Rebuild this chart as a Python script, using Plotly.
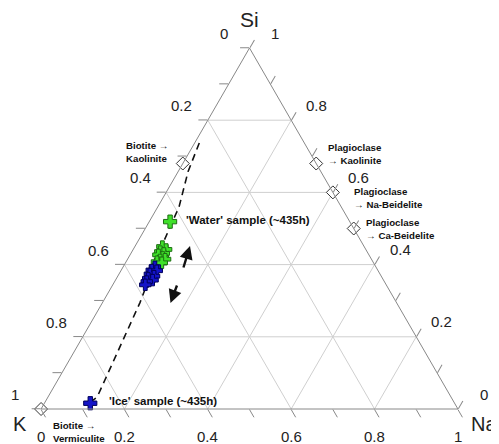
import plotly.graph_objects as go

# ---------------- data (fractions: Si = top, K = bottom-left, Na = bottom-right)
green_si = [0.450, 0.442, 0.436, 0.431, 0.427, 0.420, 0.413, 0.415, 0.408, 0.405]
green_na = [0.066, 0.079, 0.068, 0.079, 0.068, 0.082, 0.079, 0.090, 0.074, 0.087]
green_k = [0.484, 0.479, 0.496, 0.490, 0.505, 0.498, 0.508, 0.495, 0.518, 0.508]

blue_si = [0.394, 0.385, 0.383, 0.374, 0.368, 0.362, 0.357, 0.353, 0.344]
blue_na = [0.076, 0.073, 0.086, 0.074, 0.087, 0.076, 0.089, 0.077, 0.078]
blue_k = [0.530, 0.542, 0.531, 0.552, 0.545, 0.562, 0.554, 0.570, 0.578]

water_si, water_na, water_k = [0.519], [0.050], [0.431]
ice_si, ice_na, ice_k = [0.016], [0.110], [0.874]

trend_si = [0.737, 0.657, 0.560, 0.440, 0.294, 0.033, 0.019]
trend_na = [0.011, 0.024, 0.051, 0.065, 0.090, 0.118, 0.108]
trend_k = [0.252, 0.319, 0.389, 0.495, 0.616, 0.849, 0.873]

mineral_names = ["Biotite → Vermiculite", "Biotite → Kaolinite",
                 "Plagioclase → Kaolinite", "Plagioclase → Na-Beidelite",
                 "Plagioclase → Ca-Beidelite"]
mineral_si = [0.0, 0.68, 0.68, 0.60, 0.50]
mineral_na = [0.0, 0.0, 0.32, 0.40, 0.50]
mineral_k = [1.0, 0.32, 0.0, 0.0, 0.0]

tick_vals = [0, 0.1, 0.2, 0.3, 0.4, 0.5, 0.6, 0.7, 0.8, 0.9, 1.0]
label_vals = [0, 0.2, 0.4, 0.6, 0.8, 1.0]
label_text = ["0", "0.2", "0.4", "0.6", "0.8", "1"]
grid_vals = [0.2, 0.4, 0.6, 0.8]

# ---------------- figure
fig = go.Figure()

gridc = "#cfcfcf"
for v in grid_vals:
    for a, b, c in [([v, v], [1 - v, 0], [0, 1 - v]),
                    ([1 - v, 0], [v, v], [0, 1 - v]),
                    ([1 - v, 0], [0, 1 - v], [v, v])]:
        fig.add_trace(go.Scatterternary(a=a, b=b, c=c, mode="lines",
                                        line=dict(color=gridc, width=1),
                                        hoverinfo="skip", showlegend=False))

fig.add_trace(go.Scatterternary(a=trend_si, b=trend_k, c=trend_na, mode="lines",
                                line=dict(color="#111111", width=1.6, dash="7px,5px"),
                                showlegend=False))

fig.add_trace(go.Scatterternary(a=mineral_si, b=mineral_k, c=mineral_na, mode="markers",
                                text=mineral_names, cliponaxis=False,
                                marker=dict(symbol="diamond", size=10, color="white",
                                            line=dict(color="#333333", width=1)),
                                showlegend=False))

cross_g = dict(symbol="cross", size=9.5, color="#3fe02a", line=dict(color="#1d6e12", width=1))
cross_b = dict(symbol="cross", size=9.5, color="#1414c8", line=dict(color="#00005a", width=1))

fig.add_trace(go.Scatterternary(a=green_si, b=green_k, c=green_na, mode="markers",
                                marker=cross_g, showlegend=False))
fig.add_trace(go.Scatterternary(a=blue_si, b=blue_k, c=blue_na, mode="markers",
                                marker=cross_b, showlegend=False))
fig.add_trace(go.Scatterternary(a=water_si, b=water_k, c=water_na, mode="markers",
                                marker=dict(cross_g, size=11), showlegend=False))
fig.add_trace(go.Scatterternary(a=ice_si, b=ice_k, c=ice_na, mode="markers",
                                cliponaxis=False, marker=dict(cross_b, size=11),
                                showlegend=False))

axis_common = dict(tickvals=tick_vals, ticks="outside", ticklen=9,
                   tickcolor="#888888", tickwidth=1, showline=True, linecolor="#888888",
                   linewidth=1, showgrid=False, min=0, showticklabels=False,
                   title=dict(text=""))

# page body has an 8px margin -> plot area placed at page (41, 48)
fig.update_layout(
    width=499, height=444,
    margin=dict(l=33, r=49, t=40, b=43),
    paper_bgcolor="white",
    showlegend=False,
    ternary=dict(sum=1, bgcolor="white",
                 aaxis=axis_common, baxis=axis_common, caxis=axis_common),
)

W, H, L, T = 417.0, 361.0, 41.0, 48.0


def px(x, y):
    return (x - L) / W, (T + H - y) / H


tick_font = dict(family="Liberation Sans, Arial", size=15, color="#222222")
title_font = dict(family="Liberation Sans, Arial", size=20, color="#222222")


def tern_to_paper(si, na):
    return na + si / 2.0, si


def add_text(x, y, t, font, xs=0, ys=0):
    fig.add_annotation(x=x, y=y, xref="paper", yref="paper", text=t, showarrow=False,
                       xanchor="center", yanchor="middle", font=font, xshift=xs, yshift=ys)


for v, t in zip(label_vals, label_text):
    # left edge: K value (Na = 0)
    x, y = tern_to_paper(1 - v, 0)
    add_text(x, y, t, tick_font, -26, 14.5)
    # right edge: Si value (K = 0)
    x, y = tern_to_paper(v, 1 - v)
    add_text(x, y, t, tick_font, 25.5, 15)
    # bottom edge: Na value (Si = 0)
    x, y = tern_to_paper(0, v)
    add_text(x, y, t, tick_font, 0, -27)

x, y = tern_to_paper(1, 0)
add_text(x, y, "Si", dict(title_font, size=21), 0, 29)
x, y = tern_to_paper(0, 0)
add_text(x, y, "K", title_font, -21.5, -15)
x, y = tern_to_paper(0, 1)
add_text(x, y, "Na", title_font, 26, -14.5)

small = dict(family="Liberation Sans, Arial", size=9.7, color="#111111")
mid = dict(family="Liberation Sans, Arial", size=11.5, color="#111111")

labels = [
    (124, 152, "<b>Biotite →<br>Kaolinite</b>", small),
    (326, 153.5, "<b>Plagioclase<br>→ Kaolinite</b>", small),
    (352, 198, "<b>Plagioclase<br>→ Na-Beidelite</b>", small),
    (364, 228.5, "<b>Plagioclase<br>→ Ca-Beidelite</b>", small),
    (51, 432, "<b>Biotite →<br>Vermiculite</b>", small),
    (184, 220, "<b>'Water' sample (~435h)</b>", mid),
    (107, 401, "<b>'Ice' sample (~435h)</b>", mid),
]
for x, y, t, f in labels:
    xx, yy = px(x, y)
    fig.add_annotation(x=xx, y=yy, xref="paper", yref="paper", text=t, showarrow=False,
                       xanchor="left", yanchor="middle", align="left", font=f)

for hx, hy, ax, ay in [(190, 246, -7, 23), (170.5, 303, 7, -19)]:
    xx, yy = px(hx, hy)
    fig.add_annotation(x=xx, y=yy, xref="paper", yref="paper", ax=ax, ay=ay,
                       showarrow=True, arrowhead=2, arrowsize=1.1, arrowwidth=2.4,
                       arrowcolor="#111111", text="")

fig.write_html("out.html")
